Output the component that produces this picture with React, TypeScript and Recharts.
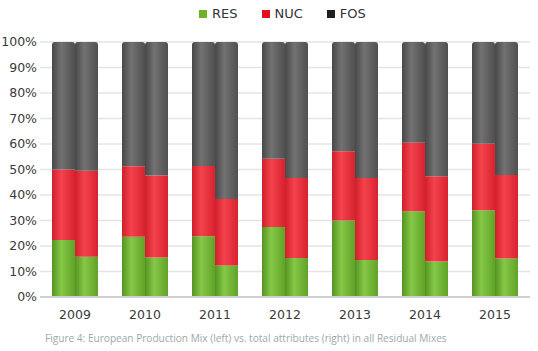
import { Bar, BarChart, CartesianGrid, XAxis, YAxis } from "recharts";

const years = ["2009", "2010", "2011", "2012", "2013", "2014", "2015"];

// left bar: European Production Mix
const prodRes = [22.4, 23.6, 23.8, 27.5, 30.0, 33.6, 34.0];
const prodNuc = [27.6, 27.7, 27.6, 26.7, 27.2, 26.9, 26.1];
const prodFos = [50.0, 48.7, 48.6, 45.8, 42.8, 39.5, 39.9];

// right bar: total attributes in all Residual Mixes
const attrRes = [15.8, 15.5, 12.4, 15.3, 14.5, 13.9, 15.1];
const attrNuc = [33.7, 32.1, 26.0, 31.4, 32.2, 33.5, 32.7];
const attrFos = [50.5, 52.4, 61.6, 53.3, 53.3, 52.6, 52.2];

const yTicks = [0, 10, 20, 30, 40, 50, 60, 70, 80, 90, 100];

const legendItems = [
  { label: "RES", color: "#6fb22a" },
  { label: "NUC", color: "#e3101e" },
  { label: "FOS", color: "#1e1e1e" },
];

const data = years.map((year, i) => ({
  year,
  prodRes: prodRes[i],
  prodNuc: prodNuc[i],
  prodFos: prodFos[i],
  attrRes: attrRes[i],
  attrNuc: attrNuc[i],
  attrFos: attrFos[i],
}));

const tickStyle = { fontSize: 12.5, fill: "#3a3a3a", fontFamily: "DejaVu Sans" };

function Cylinder(props: { id: string; dark: string; light: string; edge: string }) {
  return (
    <linearGradient id={props.id} x1="0" y1="0" x2="1" y2="0">
      <stop offset="0%" stopColor={props.edge} />
      <stop offset="40%" stopColor={props.light} />
      <stop offset="100%" stopColor={props.dark} />
    </linearGradient>
  );
}

export default function App() {
  return (
    <div
      style={{
        position: "fixed",
        left: 0,
        top: 0,
        width: 538,
        height: 351,
        background: "#fff",
      }}
    >
      <div
        style={{
          position: "absolute",
          top: 6,
          left: 199,
          display: "flex",
          fontFamily: "DejaVu Sans",
          fontSize: 13,
          color: "#333",
        }}
      >
        {legendItems.map((item) => (
          <div key={item.label} style={{ display: "flex", alignItems: "center", marginRight: 24 }}>
            <span style={{ width: 8, height: 8, background: item.color, marginRight: 5 }} />
            <span>{item.label}</span>
          </div>
        ))}
      </div>
      <BarChart
        width={538}
        height={330}
        data={data}
        margin={{ top: 42, right: 8, bottom: 13, left: 0 }}
        barCategoryGap={12}
        barGap={0}
      >
        <defs>
          <Cylinder id="g-res" edge="#529420" light="#86c847" dark="#5fa327" />
          <Cylinder id="g-nuc" edge="#cf1f2b" light="#f4434d" dark="#d8222f" />
          <Cylinder id="g-fos" edge="#484848" light="#737171" dark="#505050" />
        </defs>
        <CartesianGrid vertical={false} stroke="#e4e4e4" strokeWidth={1.5} />
        <XAxis
          dataKey="year"
          tickLine={false}
          axisLine={{ stroke: "#d0d0d0", strokeWidth: 2 }}
          tick={tickStyle}
          tickMargin={7}
          height={20}
        />
        <YAxis
          domain={[0, 100]}
          ticks={yTicks}
          tickFormatter={(v) => `${v}%`}
          tick={tickStyle}
          tickLine={false}
          axisLine={false}
          tickSize={0}
          tickMargin={3}
          width={40}
          interval={0}
        />
        <Bar dataKey="prodRes" stackId="prod" fill="url(#g-res)" isAnimationActive={false} />
        <Bar dataKey="prodNuc" stackId="prod" fill="url(#g-nuc)" isAnimationActive={false} />
        <Bar dataKey="prodFos" stackId="prod" fill="url(#g-fos)" radius={[3, 3, 0, 0]} isAnimationActive={false} />
        <Bar dataKey="attrRes" stackId="attr" fill="url(#g-res)" isAnimationActive={false} />
        <Bar dataKey="attrNuc" stackId="attr" fill="url(#g-nuc)" isAnimationActive={false} />
        <Bar dataKey="attrFos" stackId="attr" fill="url(#g-fos)" radius={[3, 3, 0, 0]} isAnimationActive={false} />
      </BarChart>
      <div
        style={{
          position: "absolute",
          top: 331,
          left: 45,
          fontFamily: "Open Sans",
          fontSize: 10.1,
          color: "#9ea8a8",
          whiteSpace: "nowrap",
        }}
      >
        Figure 4: European Production Mix (left) vs. total attributes (right) in all Residual Mixes
      </div>
    </div>
  );
}
